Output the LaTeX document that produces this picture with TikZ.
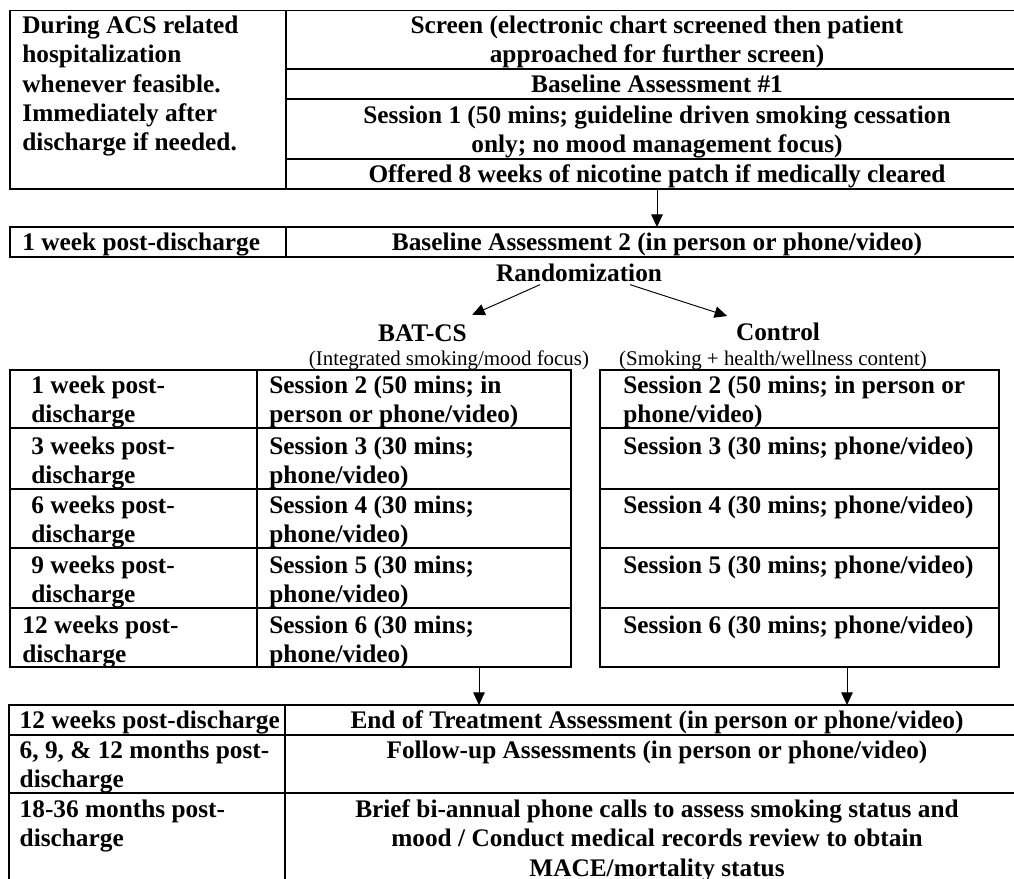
\documentclass[tikz,border=0pt]{standalone}
\usepackage{fontspec}
\setmainfont{Liberation Serif}
\usetikzlibrary{arrows.meta,calc}
\tikzset{
  cellbox/.style={draw, line width=0.7pt, inner sep=0pt, outer sep=0pt},
  tl/.style={anchor=base west, inner sep=0pt, font=\fontsize{12.1}{14}\selectfont\bfseries},
  tc/.style={anchor=base, inner sep=0pt, font=\fontsize{12.1}{14}\selectfont\bfseries},
  sub/.style={anchor=base, inner sep=0pt, font=\fontsize{10}{12}\selectfont},
  arr/.style={line width=0.45pt, -{Triangle[width=5.5pt,length=6pt]}},
}
\newcommand\mkcell[5]{%
  \pgfmathsetmacro\mycw{(#4-#2)*0.478}%
  \pgfmathsetmacro\mych{(#5-#3)*0.478}%
  \node[cellbox, minimum width=\mycw pt, minimum height=\mych pt] (#1) at ({(#2+#4)/2},{(#3+#5)/2}) {};}
\begin{document}
\begin{tikzpicture}[x=0.478pt, y=-0.478pt]
\useasboundingbox (0,0) rectangle (1014,879);
\clip (0,0) rectangle (1014,879);

% ---- top table
\mkcell{tA}{10}{10.5}{286}{189}
\mkcell{tB}{286}{10.5}{1028}{69}
\mkcell{tC}{286}{69}{1028}{99}
\mkcell{tD}{286}{99}{1028}{159}
\mkcell{tE}{286}{159}{1028}{189}
\node[tl] (tA1) at (22,33.5) {During ACS related};
\node[tl] (tA2) at (22,62.8) {hospitalization};
\node[tl] (tA3) at (22,92.1) {whenever feasible.};
\node[tl] (tA4) at (22,121.4) {Immediately after};
\node[tl] (tA5) at (22,150.7) {discharge if needed.};
\node[tc] (tB1) at (657,33.5) {Screen (electronic chart screened then patient};
\node[tc] (tB2) at (657,62.8) {approached for further screen)};
\node[tc] (tC1) at (657,92.3) {Baseline Assessment \#1};
\node[tc] (tD1) at (657,123.5) {Session 1 (50 mins; guideline driven smoking cessation};
\node[tc] (tD2) at (657,152.5) {only; no mood management focus)};
\node[tc] (tE1) at (657,182.3) {Offered 8 weeks of nicotine patch if medically cleared};

% ---- baseline 2 row
\mkcell{uA}{10}{227}{286}{257}
\mkcell{uB}{286}{227}{1028}{257}
\node[tl] (uA1) at (22,250) {1 week post-discharge};
\node[tc] (uB1) at (657,250) {Baseline Assessment 2 (in person or phone/video)};
\draw[arr] (tE.south) -- (uB.north);

% ---- randomization
\node[tc] (rand) at (579,281.5) {Randomization};
\node[tc] (bat) at (422.5,341) {BAT-CS};
\node[tc] (ctl) at (778,340.5) {Control};
\node[sub] (batsub) at (449,365) {(Integrated smoking/mood focus)};
\node[sub] (ctlsub) at (773,365) {(Smoking + health/wellness content)};
\draw[arr] ($(rand.south)+(-39,2.5)$) -- ($(bat.north east)+(5,-9)$);
\draw[arr] ($(rand.south)+(51,2.5)$) -- ($(ctl.north west)+(-8.5,-6.5)$);

% ---- BAT-CS table
\mkcell{lA1}{10}{370}{257}{428}   \mkcell{lB1}{257}{370}{571}{428}
\mkcell{lA2}{10}{428}{257}{489}   \mkcell{lB2}{257}{428}{571}{489}
\mkcell{lA3}{10}{489}{257}{548}   \mkcell{lB3}{257}{489}{571}{548}
\mkcell{lA4}{10}{548}{257}{608}   \mkcell{lB4}{257}{548}{571}{608}
\mkcell{lA5}{10}{608}{257}{667}   \mkcell{lB5}{257}{608}{571}{667}

\node[tl] (lA1a) at (31,393.3) {1 week post-};
\node[tl] (lA1b) at (31,422.6) {discharge};
\node[tl] (lB1a) at (269,393.3) {Session 2 (50 mins; in};
\node[tl] (lB1b) at (269,422.6) {person or phone/video)};
\node[tl] (lA2a) at (31,454.3) {3 weeks post-};
\node[tl] (lA2b) at (31,483.6) {discharge};
\node[tl] (lB2a) at (269,454.3) {Session 3 (30 mins;};
\node[tl] (lB2b) at (269,483.6) {phone/video)};
\node[tl] (lA3a) at (31,513.3) {6 weeks post-};
\node[tl] (lA3b) at (31,542.6) {discharge};
\node[tl] (lB3a) at (269,513.3) {Session 4 (30 mins;};
\node[tl] (lB3b) at (269,542.6) {phone/video)};
\node[tl] (lA4a) at (31,573.3) {9 weeks post-};
\node[tl] (lA4b) at (31,602.6) {discharge};
\node[tl] (lB4a) at (269,573.3) {Session 5 (30 mins;};
\node[tl] (lB4b) at (269,602.6) {phone/video)};
\node[tl] (lA5a) at (22,633.3) {12 weeks post-};
\node[tl] (lA5b) at (22,662.6) {discharge};
\node[tl] (lB5a) at (269,633.3) {Session 6 (30 mins;};
\node[tl] (lB5b) at (269,662.6) {phone/video)};

% ---- Control table
\mkcell{rC1}{600}{370}{999}{428}
\mkcell{rC2}{600}{428}{999}{489}
\mkcell{rC3}{600}{489}{999}{548}
\mkcell{rC4}{600}{548}{999}{608}
\mkcell{rC5}{600}{608}{999}{667}
\node[tl] (rC1a) at (623,393.3) {Session 2 (50 mins; in person or};
\node[tl] (rC1b) at (623,422.6) {phone/video)};
\node[tl] (rC2a) at (623,454.3) {Session 3 (30 mins; phone/video)};
\node[tl] (rC3a) at (623,513.3) {Session 4 (30 mins; phone/video)};
\node[tl] (rC4a) at (623,573.3) {Session 5 (30 mins; phone/video)};
\node[tl] (rC5a) at (623,633.3) {Session 6 (30 mins; phone/video)};

% ---- bottom table
\mkcell{vA}{9}{705}{285}{735}
\mkcell{vB}{285}{705}{1028}{735}
\mkcell{wA}{9}{735}{285}{793}
\mkcell{wB}{285}{735}{1028}{793}
\mkcell{xA}{9}{793}{285}{910}
\mkcell{xB}{285}{793}{1028}{910}
\node[tl] (vA1) at (19.3,728.3) {12 weeks post-discharge};
\node[tc] (vB1) at (657,728.3) {End of Treatment Assessment (in person or phone/video)};
\node[tl] (wA1) at (19.3,758.3) {6, 9, \& 12 months post-};
\node[tl] (wA2) at (19.3,787.6) {discharge};
\node[tc] (wB1) at (657,758.3) {Follow-up Assessments (in person or phone/video)};
\node[tl] (xA1) at (19.3,817.3) {18-36 months post-};
\node[tl] (xA2) at (19.3,846.6) {discharge};
\node[tc] (xB1) at (657,817.3) {Brief bi-annual phone calls to assess smoking status and};
\node[tc] (xB2) at (657,846.6) {mood / Conduct medical records review to obtain};
\node[tc] (xB3) at (657,876) {MACE/mortality status};

% ---- arrows into bottom table
\coordinate (la) at ($(lB5.south)+(65,0)$);
\draw[arr] (la) -- (la |- vB.north);
\coordinate (ra) at ($(rC5.south)+(47.5,0)$);
\draw[arr] (ra) -- (ra |- vB.north);
\end{tikzpicture}
\end{document}
